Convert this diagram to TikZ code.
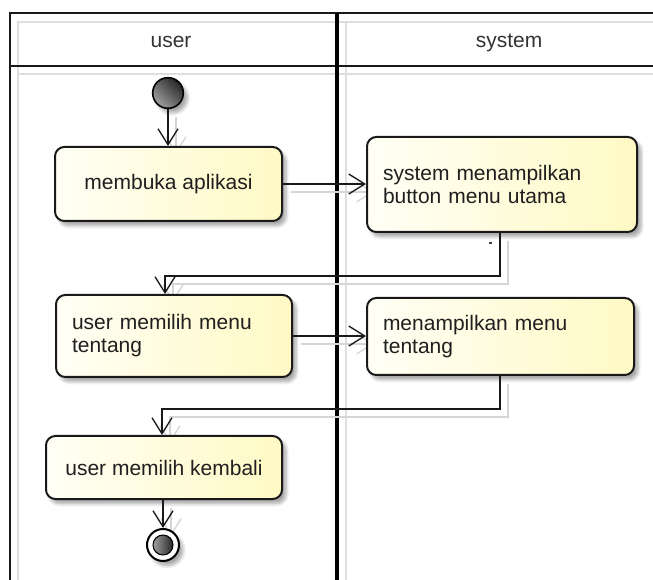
\documentclass[tikz,border=0pt]{standalone}
\usepackage{fontspec}
\setmainfont{Liberation Sans}
\usetikzlibrary{arrows.meta,shadows.blur,backgrounds}
\definecolor{actl}{RGB}{255,255,246}
\definecolor{actr}{RGB}{255,249,196}
\definecolor{laneshade}{RGB}{222,222,222}
\definecolor{wireshade}{RGB}{214,214,214}
% all control-flow edges; the argument gives their look
\newcommand\drawflows[1]{%
  \draw[#1] (start) -- (start |- b1.north);
  \draw[#1] (b1.east) -- (b2.west |- b1.east);
  \draw[#1] (b2.south -| j1) -- (j1) -- (j2) -- (j2 |- b3.north);
  \draw[#1] (b3.east) -- (b4.west |- b3.east);
  \draw[#1] (b4.south -| j3) -- (j3) -- (j4) -- (j4 |- b5.north);
  \draw[#1] (b5.south -| finish) -- (finish);
}
\begin{document}
\begin{tikzpicture}[x=0.75pt,y=-0.75pt,
  every node/.style={font=\fontsize{15.75pt}{17.25pt}\selectfont, text=black!88},
  softshadow/.style={blur shadow={shadow xshift=3pt, shadow yshift=-3.5pt,
      shadow blur radius=2.5pt, shadow blur steps=6, shadow opacity=35}},
  action/.style={draw=black!90, line width=1.5pt, rounded corners=7pt,
      left color=actl, right color=actr, softshadow, inner ysep=0pt},
  action1/.style={action, align=center, inner xsep=0pt},
  action2/.style={action, align=left, inner xsep=12pt},
  flow/.style={line width=1pt, black!90,
      -{Straight Barb[length=12pt,width=15pt,line width=1pt]}},
  flowshade/.style={line width=1pt, wireshade,
      -{Straight Barb[length=12pt,width=15pt,line width=1pt]}},
  lane/.style={line width=1.5pt, black!90},
  laneghost/.style={line width=1.5pt, laneshade},
]
\useasboundingbox (0,0) rectangle (653,580);

% swimlane headers
\node[anchor=base, text=black!80] (hUser) at (171,48) {user};
\node[anchor=base, text=black!80] (hSys) at (509,48) {system};

% initial and final states
\node[circle, draw=black, line width=1.2pt, minimum size=23pt, inner sep=0pt,
      left color=gray!75, right color=black!85, shading angle=135, softshadow]
      (start) at (168,93) {};
\node[circle, draw=black, line width=1.5pt, fill=white, minimum size=24pt,
      inner sep=0pt, softshadow] (finish) at (163,545) {};
\node[circle, draw=black, line width=0.8pt, minimum size=15pt, inner sep=0pt,
      left color=gray!75, right color=black!85] (finishcore) at (finish) {};

% activities
\node[action1, minimum width=170.25pt, minimum height=55.5pt]
      (b1) at (168.5,184) {membuka aplikasi};
\node[action2, text width=178.5pt, minimum height=71.25pt]
      (b2) at (502,184.5) {system menampilkan\\button menu utama};
\node[action2, text width=153pt, minimum height=61.5pt]
      (b3) at (174,336) {user memilih menu\\tentang};
\node[action2, text width=176.25pt, minimum height=57.75pt]
      (b4) at (500.5,336.5) {menampilkan menu\\tentang};
\node[action1, minimum width=177pt, minimum height=47.25pt]
      (b5) at (164,467.5) {user memilih kembali};

% bends of the return edges
\coordinate (j1) at (500,276);
\coordinate (j2) at (165,276);
\coordinate (j3) at (500,409);
\coordinate (j4) at (162,409);

\begin{scope}[on background layer]
  % lane grid with its pale offset copy
  \draw[laneghost] (18,580) -- (18,22) -- (653,22);
  \draw[laneghost] (18,74) -- (653,74);
  \draw[laneghost] (346,22) -- (346,580);
  \draw[lane] (9.5,580) -- (9.5,13) -- (653,13);
  \draw[lane] (9.5,66) -- (653,66);
  \draw[line width=3pt, black] (337,13) -- (337,580);
  % pale copies of the edges
  \begin{scope}[transform canvas={shift={(8,8)}}]
    \drawflows{flowshade}
  \end{scope}
\end{scope}

\drawflows{flow}

% empty guard mark under the first system action
\fill[black!75] (489,242.5) rectangle (491.5,244.5);
\end{tikzpicture}
\end{document}
